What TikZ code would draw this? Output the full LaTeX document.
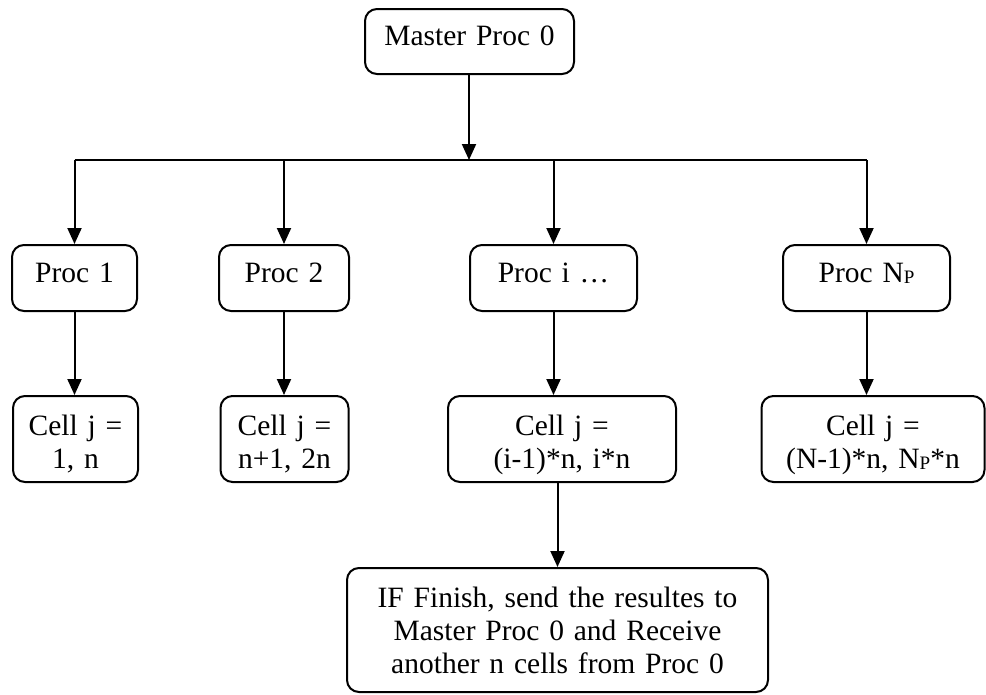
\documentclass[tikz,border=0pt]{standalone}
\usepackage{fontspec}
\setmainfont[WordSpace=0.85]{Liberation Serif}
\usetikzlibrary{arrows.meta}
\newcommand{\subPP}{\raisebox{-1.5pt}{\fontsize{19}{19}\selectfont P}}
\begin{document}
\begin{tikzpicture}[x=1pt,y=-1pt,
  box/.style={draw, line width=2pt, rounded corners=12pt, inner sep=0pt, align=center,
    font=\fontsize{29.5}{33}\selectfont, text height=20pt},
  arr/.style={line width=2pt, -{Triangle[length=16pt,width=14pt]}},
  ln/.style={line width=2pt}]
\useasboundingbox (0,0) rectangle (986,694);
% top
\node[box, minimum width=209pt, minimum height=65pt, text width=205pt, text depth=13pt] (master) at (469.5,41.5) {Master Proc 0};
% procs
\node[box, minimum width=125pt, minimum height=66pt, text width=120pt, text depth=12pt] (p1) at (74.5,278) {Proc 1};
\node[box, minimum width=130pt, minimum height=66pt, text width=125pt, text depth=12pt] (p2) at (284,278) {Proc 2};
\node[box, minimum width=167pt, minimum height=66pt, text width=160pt, text depth=12pt] (pi) at (553.5,278) {Proc i …};
\node[box, minimum width=167pt, minimum height=66pt, text width=160pt, text depth=12pt] (pn) at (866.5,278) {Proc N\subPP};
% cells
\node[box, minimum width=125pt, minimum height=86pt, text width=120pt, text depth=28pt] (c1) at (75.5,439) {Cell j =\\1, n};
\node[box, minimum width=128pt, minimum height=86pt, text width=124pt, text depth=28pt] (c2) at (284.5,439) {Cell j =\\n+1, 2n};
\node[box, minimum width=228pt, minimum height=86pt, text width=222pt, text depth=28pt] (ci) at (562,439) {Cell j =\\(i-1)*n, i*n};
\node[box, minimum width=223pt, minimum height=86pt, text width=218pt, text depth=28pt] (cn) at (873,439) {Cell j =\\(N-1)*n, N\subPP*n};
% final
\node[box, minimum width=421pt, minimum height=124pt, text width=415pt, text depth=66pt] (fin) at (557.5,630) {IF Finish, send the resultes to\\Master Proc 0 and Receive\\another n cells from Proc 0};
% connectors
\coordinate (bus) at (469,160);
\draw[arr] (master.south -| bus) -- (bus);
\draw[ln] (p1.north |- bus) -- (pn.north |- bus);
\draw[arr] (p1.north |- bus) -- (p1.north);
\draw[arr] (p2.north |- bus) -- (p2.north);
\draw[arr] (pi.north |- bus) -- (pi.north);
\draw[arr] (pn.north |- bus) -- (pn.north);
\draw[arr] (p1.south) -- (p1.south |- c1.north);
\draw[arr] (p2.south) -- (p2.south |- c2.north);
\draw[arr] (pi.south) -- (pi.south |- ci.north);
\draw[arr] (pn.south) -- (pn.south |- cn.north);
\draw[arr] (fin.north |- ci.south) -- (fin.north);
\end{tikzpicture}
\end{document}
